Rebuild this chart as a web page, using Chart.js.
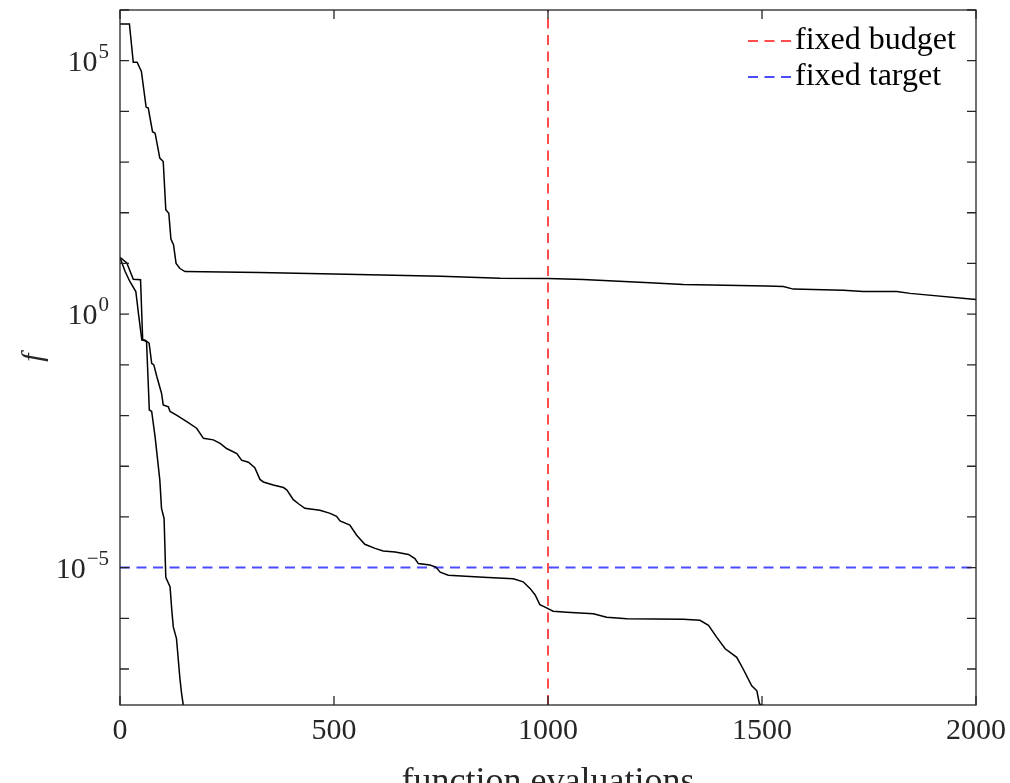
<!DOCTYPE html>
<html>
<head>
    <title>fixed budget vs fixed target</title>
    <script src="https://cdn.jsdelivr.net/npm/chart.js"></script>
    <style>
        html, body { margin: 0; padding: 0; background: #fff; }
        .chart-container { width: 1010px; height: 783px; position: relative; }
    </style>
</head>
<body>
    <div class="chart-container">
        <canvas id="convChart"></canvas>
    </div>

    <script>
        // run 1 (stalls around f ~ 5)
        const evals1 = [0, 22, 31, 40, 50, 61, 66, 76, 82, 93, 101, 107, 114, 119, 125, 131, 140, 152, 325, 500, 750, 888, 1000, 1082, 1238, 1316, 1511, 1550, 1573, 1690, 1736, 1815, 1846, 2000];
        const logF1 = [5.725, 5.725, 4.97, 4.97, 4.79, 4.085, 4.065, 3.60, 3.57, 3.08, 3.01, 2.06, 1.99, 1.48, 1.37, 1.00, 0.90, 0.84, 0.82, 0.79, 0.75, 0.71, 0.705, 0.686, 0.62, 0.587, 0.553, 0.545, 0.494, 0.474, 0.448, 0.448, 0.41, 0.29];

        // run 2 (slow descent, hits the floor near 1500)
        const evals2 = [0, 2, 12, 23, 37, 43, 51, 58, 68, 74, 79, 86, 97, 101, 113, 117, 132, 156, 179, 195, 218, 234, 249, 273, 284, 300, 315, 327, 335, 358, 382, 390, 405, 417, 432, 467, 491, 506, 514, 537, 553, 572, 596, 615, 643, 674, 689, 697, 724, 738, 748, 767, 849, 919, 942, 958, 970, 981, 993, 1012, 1044, 1106, 1137, 1184, 1316, 1355, 1375, 1394, 1414, 1441, 1456, 1476, 1488, 1494, 1503, 1506];
        const logF2 = [1.10, 1.07, 0.84, 0.645, 0.447, 0.02, -0.51, -0.51, -0.57, -0.97, -1.0, -1.23, -1.56, -1.79, -1.83, -1.92, -1.99, -2.12, -2.25, -2.45, -2.48, -2.55, -2.65, -2.75, -2.88, -2.92, -3.03, -3.26, -3.31, -3.37, -3.42, -3.47, -3.66, -3.74, -3.83, -3.87, -3.93, -3.99, -4.08, -4.16, -4.36, -4.54, -4.62, -4.67, -4.69, -4.74, -4.82, -4.92, -4.95, -4.99, -5.09, -5.15, -5.19, -5.22, -5.28, -5.41, -5.54, -5.73, -5.78, -5.86, -5.88, -5.91, -5.98, -6.01, -6.02, -6.04, -6.14, -6.37, -6.60, -6.77, -7.0, -7.33, -7.43, -7.69, -7.72, -8.0];

        // run 3 (fast convergence)
        const evals3 = [0, 16, 31, 48, 53, 62, 68.5, 74, 82, 93, 97, 103, 107, 117, 121, 124.5, 132, 140, 144, 148, 150];
        const logF3 = [1.12, 1.01, 0.69, 0.68, -0.51, -0.54, -1.89, -1.92, -2.42, -3.27, -3.83, -4.03, -5.19, -5.38, -5.84, -6.17, -6.40, -7.19, -7.49, -7.72, -8.0];

        const xTicks = [0, 500, 1000, 1500, 2000];
        const yDecades = [-7, -6, -5, -4, -3, -2, -1, 0, 1, 2, 3, 4, 5, 6];
        const yLabelled = [-5, 0, 5];
        const xMax = 2000;
        const yMin = 10 ** -7.71;
        const yMax = 1e6;
        const budget = 1000;
        const target = 1e-5;

        const serif = "'Liberation Serif', 'Times New Roman', serif";
        const ink = '#262626';

        function toPoints(xs, logs) {
            return xs.map((x, i) => ({ x: x, y: 10 ** logs[i] }));
        }

        function runDataset(xs, logs) {
            return {
                data: toPoints(xs, logs),
                borderColor: '#000',
                borderWidth: 1.5,
                pointRadius: 0,
                tension: 0,
                fill: false
            };
        }

        // frame round the plot with inward ticks on all four sides
        const framePlugin = {
            id: 'frame',
            afterDatasetsDraw(chart) {
                const { ctx, chartArea: a, scales: { x, y } } = chart;
                ctx.save();
                ctx.strokeStyle = ink;
                ctx.lineWidth = 1.3;
                ctx.beginPath();
                x.ticks.forEach(t => {
                    const px = x.getPixelForValue(t.value);
                    ctx.moveTo(px, a.bottom); ctx.lineTo(px, a.bottom - 9);
                    ctx.moveTo(px, a.top); ctx.lineTo(px, a.top + 9);
                });
                y.ticks.forEach(t => {
                    const py = y.getPixelForValue(t.value);
                    ctx.moveTo(a.left, py); ctx.lineTo(a.left + 9, py);
                    ctx.moveTo(a.right, py); ctx.lineTo(a.right - 9, py);
                });
                ctx.stroke();
                ctx.strokeRect(a.left, a.top, a.right - a.left, a.bottom - a.top);
                ctx.restore();
            }
        };

        // y tick labels as 10 with a raised exponent
        const powerLabels = {
            id: 'powerLabels',
            afterDraw(chart) {
                const { ctx, chartArea: a, scales: { y } } = chart;
                ctx.save();
                ctx.fillStyle = ink;
                ctx.textBaseline = 'alphabetic';
                ctx.textAlign = 'left';
                y.ticks.forEach(t => {
                    const e = Math.round(Math.log10(t.value));
                    if (!yLabelled.includes(e)) return;
                    const py = y.getPixelForValue(t.value);
                    const right = a.left - 11;
                    ctx.font = `21px ${serif}`;
                    const expText = e < 0 ? '\u2212' + Math.abs(e) : String(e);
                    const expW = ctx.measureText(expText).width;
                    ctx.font = `30px ${serif}`;
                    const baseW = ctx.measureText('10').width;
                    const x0 = right - expW - baseW - 1;
                    ctx.fillText('10', x0, py + 10);
                    ctx.font = `21px ${serif}`;
                    ctx.fillText(expText, x0 + baseW + 1, py - 3);
                });
                ctx.restore();
            }
        };

        // legend inside the top right corner of the axes
        const legendPlugin = {
            id: 'insideLegend',
            afterDraw(chart) {
                const { ctx, chartArea: a } = chart;
                const items = chart.data.datasets.filter(d => d.label);
                ctx.save();
                ctx.font = `32px ${serif}`;
                ctx.fillStyle = '#000';
                ctx.textAlign = 'left';
                ctx.textBaseline = 'alphabetic';
                items.forEach((d, i) => {
                    const textX = a.right - 181;
                    const base = a.top + 39 + i * 36;
                    ctx.strokeStyle = d.borderColor;
                    ctx.lineWidth = d.borderWidth;
                    ctx.setLineDash(d.borderDash);
                    ctx.beginPath();
                    ctx.moveTo(textX - 47, base - 8);
                    ctx.lineTo(textX - 3, base - 8);
                    ctx.stroke();
                    ctx.fillText(d.label, textX, base);
                });
                ctx.restore();
            }
        };

        const ctx = document.getElementById('convChart').getContext('2d');
        new Chart(ctx, {
            type: 'line',
            data: {
                datasets: [
                    runDataset(evals1, logF1),
                    runDataset(evals2, logF2),
                    runDataset(evals3, logF3),
                    {
                        label: 'fixed budget',
                        data: [{ x: budget, y: yMin }, { x: budget, y: yMax }],
                        borderColor: 'rgba(255, 0, 0, 0.7)',
                        borderWidth: 2,
                        borderDash: [10, 6.5],
                        pointRadius: 0
                    },
                    {
                        label: 'fixed target',
                        data: [{ x: 0, y: target }, { x: xMax, y: target }],
                        borderColor: 'rgba(0, 0, 255, 0.7)',
                        borderWidth: 2,
                        borderDash: [10, 6.5],
                        pointRadius: 0
                    }
                ]
            },
            options: {
                responsive: true,
                maintainAspectRatio: false,
                animation: false,
                layout: { padding: { left: 0, top: 10, right: 34, bottom: 0 } },
                plugins: {
                    legend: { display: false },
                    tooltip: { enabled: false }
                },
                scales: {
                    x: {
                        type: 'linear',
                        min: 0,
                        max: xMax,
                        afterBuildTicks: s => { s.ticks = xTicks.map(v => ({ value: v })); },
                        afterFit: s => { s.height = 78; s.paddingLeft = 0; s.paddingRight = 0; },
                        grid: { display: false, drawTicks: false },
                        border: { display: false },
                        ticks: {
                            font: { family: serif, size: 30 },
                            color: ink,
                            padding: 8,
                            maxRotation: 0,
                            autoSkip: false,
                            callback: v => String(v)
                        },
                        title: {
                            display: true,
                            text: 'function evaluations',
                            font: { family: serif, size: 36 },
                            color: ink,
                            padding: { top: 0, bottom: -21 }
                        }
                    },
                    y: {
                        type: 'logarithmic',
                        min: yMin,
                        max: yMax,
                        afterBuildTicks: s => { s.ticks = yDecades.map(e => ({ value: 10 ** e })); },
                        afterFit: s => { s.width = 120; s.paddingTop = 0; s.paddingBottom = 0; },
                        grid: { display: false, drawTicks: false },
                        border: { display: false },
                        ticks: { display: false },
                        title: {
                            display: true,
                            text: 'f',
                            font: { family: serif, size: 30, style: 'italic' },
                            color: ink,
                            padding: { top: 16, bottom: 0 }
                        }
                    }
                }
            },
            plugins: [framePlugin, powerLabels, legendPlugin]
        });
    </script>
</body>
</html>
